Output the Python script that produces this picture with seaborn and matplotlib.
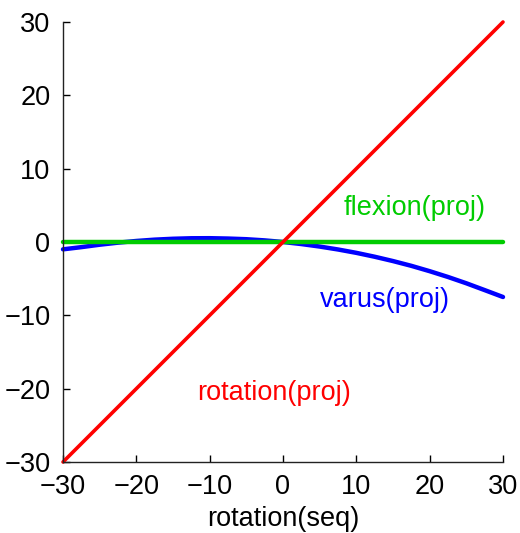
import numpy as np
import pandas as pd
import matplotlib
matplotlib.use("Agg")
import matplotlib.pyplot as plt
import seaborn as sns

x_seq = [-30, -27.5, -25, -22.5, -20, -17.5, -15, -12.5, -10, -7.5, -5, -2.5, 0,
         2.5, 5, 7.5, 10, 12.5, 15, 17.5, 20, 22.5, 25, 27.5, 30]
varus = [-1.0, -0.7, -0.37, -0.09, 0.14, 0.32, 0.44, 0.51, 0.52, 0.47, 0.38, 0.22, 0.0,
         -0.28, -0.62, -1.02, -1.48, -2.01, -2.6, -3.25, -3.98, -4.77, -5.63, -6.56, -7.5]
flexion = [0.0] * len(x_seq)
rotation = list(x_seq)

labels = ["varus(proj)", "flexion(proj)", "rotation(proj)"]
colors = ["#0000ff", "#00cc00", "#ff0000"]
widths = [3.2, 3.2, 2.6]

sns.set_style("white")
plt.rcParams["font.family"] = ["Liberation Sans", "DejaVu Sans"]
plt.rcParams["text.color"] = "black"
plt.rcParams["axes.labelcolor"] = "black"

FS = 19.5

fig = plt.figure(figsize=(5.2, 5.33), dpi=100)
ax = fig.add_axes([63/520, 1 - 462/533, 440/520, 440/533])

for series, col, lw in zip([varus, flexion, rotation], colors, widths):
    df = pd.DataFrame({"x": x_seq, "y": series})
    sns.lineplot(data=df, x="x", y="y", color=col, linewidth=lw, ax=ax, clip_on=False)

ax.set_xlim(-30, 30)
ax.set_ylim(-30, 30)
ticks = [-30, -20, -10, 0, 10, 20, 30]
tlabels = ["\u221230", "\u221220", "\u221210", "0", "10", "20", "30"]
ax.set_xticks(ticks)
ax.set_yticks(ticks)
ax.set_xticklabels(tlabels)
ax.set_yticklabels(tlabels)
ax.tick_params(direction="in", length=5, width=1, labelsize=FS, colors="black",
               top=False, right=False, bottom=True, left=True)
ax.tick_params(axis="x", pad=9)
ax.tick_params(axis="y", pad=9)
ax.set_xlabel("rotation(seq)", fontsize=FS, labelpad=4, color="black")
ax.set_ylabel("")
for s in ["top", "right"]:
    ax.spines[s].set_visible(False)
for s in ["left", "bottom"]:
    ax.spines[s].set_color("#222222")
    ax.spines[s].set_linewidth(1)

ax.text(18.0, 4.6, labels[1], color=colors[1], fontsize=FS, ha="center", va="center")
ax.text(13.9, -7.9, labels[0], color=colors[0], fontsize=FS, ha="center", va="center")
ax.text(-1.2, -20.6, labels[2], color=colors[2], fontsize=FS, ha="center", va="center")

fig.savefig("out.png", dpi=100)
